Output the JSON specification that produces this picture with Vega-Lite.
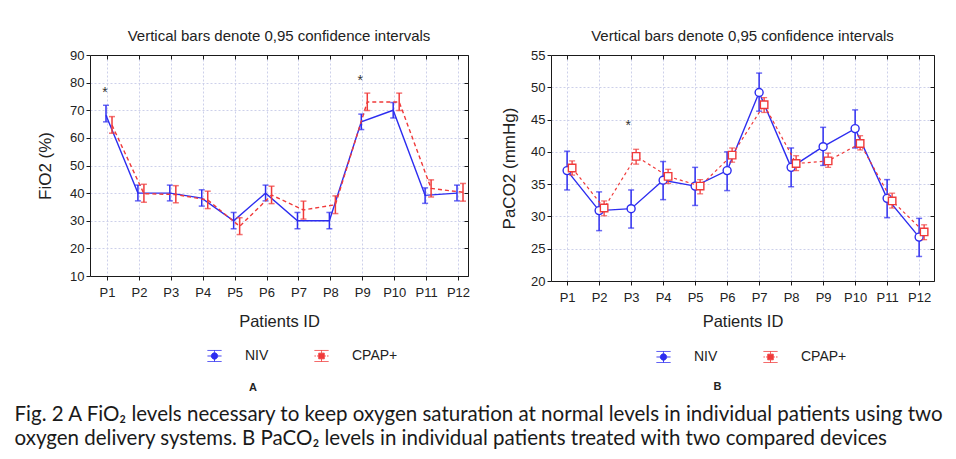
{
  "$schema": "https://vega.github.io/schema/vega-lite/v6.json",
  "background": "white",
  "padding": {"left": 14, "top": 29, "right": 5, "bottom": 5},
  "datasets": {
    "fio2": [
      {"id": "P1", "group": "NIV", "mean": 68.2, "lo": 65.8, "hi": 71.8},
      {"id": "P2", "group": "NIV", "mean": 40, "lo": 37.2, "hi": 42.9},
      {"id": "P3", "group": "NIV", "mean": 40, "lo": 37.2, "hi": 42.9},
      {"id": "P4", "group": "NIV", "mean": 38.2, "lo": 35.3, "hi": 41.2},
      {"id": "P5", "group": "NIV", "mean": 30, "lo": 27.1, "hi": 33},
      {"id": "P6", "group": "NIV", "mean": 40, "lo": 37.2, "hi": 42.9},
      {"id": "P7", "group": "NIV", "mean": 30, "lo": 27.1, "hi": 33},
      {"id": "P8", "group": "NIV", "mean": 30, "lo": 27.1, "hi": 33},
      {"id": "P9", "group": "NIV", "mean": 65.8, "lo": 63, "hi": 68.6},
      {"id": "P10", "group": "NIV", "mean": 70, "lo": 67.2, "hi": 72.8},
      {"id": "P11", "group": "NIV", "mean": 39.2, "lo": 36.3, "hi": 41.9},
      {"id": "P12", "group": "NIV", "mean": 40, "lo": 37.2, "hi": 42.9},
      {"id": "P1", "group": "CPAP+", "mean": 64.6, "lo": 61.7, "hi": 67.7},
      {"id": "P2", "group": "CPAP+", "mean": 39.8, "lo": 36.7, "hi": 43.2},
      {"id": "P3", "group": "CPAP+", "mean": 39.5, "lo": 36.5, "hi": 42.7},
      {"id": "P4", "group": "CPAP+", "mean": 37.5, "lo": 34.4, "hi": 40.7},
      {"id": "P5", "group": "CPAP+", "mean": 28, "lo": 25, "hi": 31.1},
      {"id": "P6", "group": "CPAP+", "mean": 39.3, "lo": 36.2, "hi": 42.5},
      {"id": "P7", "group": "CPAP+", "mean": 33.9, "lo": 30.6, "hi": 37.1},
      {"id": "P8", "group": "CPAP+", "mean": 35.8, "lo": 32.6, "hi": 39},
      {"id": "P9", "group": "CPAP+", "mean": 73, "lo": 69.9, "hi": 76.2},
      {"id": "P10", "group": "CPAP+", "mean": 73, "lo": 69.9, "hi": 76.2},
      {"id": "P11", "group": "CPAP+", "mean": 41.7, "lo": 38.6, "hi": 44.8},
      {"id": "P12", "group": "CPAP+", "mean": 40.3, "lo": 37.1, "hi": 43.5}
    ],
    "paco2": [
      {"id": "P1", "group": "NIV", "mean": 37.1, "lo": 34.1, "hi": 40.1},
      {"id": "P2", "group": "NIV", "mean": 30.9, "lo": 27.8, "hi": 33.8},
      {"id": "P3", "group": "NIV", "mean": 31.2, "lo": 28.2, "hi": 34.1},
      {"id": "P4", "group": "NIV", "mean": 35.6, "lo": 32.6, "hi": 38.5},
      {"id": "P5", "group": "NIV", "mean": 34.7, "lo": 31.7, "hi": 37.6},
      {"id": "P6", "group": "NIV", "mean": 37.1, "lo": 34, "hi": 40},
      {"id": "P7", "group": "NIV", "mean": 49.2, "lo": 46.3, "hi": 52.2},
      {"id": "P8", "group": "NIV", "mean": 37.6, "lo": 34.6, "hi": 40.6},
      {"id": "P9", "group": "NIV", "mean": 40.8, "lo": 37.9, "hi": 43.8},
      {"id": "P10", "group": "NIV", "mean": 43.6, "lo": 40.6, "hi": 46.5},
      {"id": "P11", "group": "NIV", "mean": 32.8, "lo": 29.8, "hi": 35.7},
      {"id": "P12", "group": "NIV", "mean": 26.8, "lo": 23.8, "hi": 29.7},
      {"id": "P1", "group": "CPAP+", "mean": 37.5, "lo": 36.4, "hi": 38.6},
      {"id": "P2", "group": "CPAP+", "mean": 31.3, "lo": 30.1, "hi": 32.4},
      {"id": "P3", "group": "CPAP+", "mean": 39.3, "lo": 38.1, "hi": 40.4},
      {"id": "P4", "group": "CPAP+", "mean": 36.2, "lo": 35.1, "hi": 37.3},
      {"id": "P5", "group": "CPAP+", "mean": 34.7, "lo": 33.5, "hi": 35.7},
      {"id": "P6", "group": "CPAP+", "mean": 39.5, "lo": 38.4, "hi": 40.6},
      {"id": "P7", "group": "CPAP+", "mean": 47.3, "lo": 46.1, "hi": 48.4},
      {"id": "P8", "group": "CPAP+", "mean": 38.2, "lo": 37.1, "hi": 39.4},
      {"id": "P9", "group": "CPAP+", "mean": 38.6, "lo": 37.6, "hi": 39.8},
      {"id": "P10", "group": "CPAP+", "mean": 41.3, "lo": 40.3, "hi": 42.5},
      {"id": "P11", "group": "CPAP+", "mean": 32.4, "lo": 31.3, "hi": 33.6},
      {"id": "P12", "group": "CPAP+", "mean": 27.6, "lo": 26.4, "hi": 28.7}
    ],
    "starsA": [
      {"id": "P1", "value": 77.4, "label": "*"},
      {"id": "P9", "value": 81.8, "label": "*"}
    ],
    "starsB": [
      {"id": "P3", "value": 44.4, "label": "*"}
    ]
  },
  "config": {
    "font": "Liberation Sans",
    "view": {"stroke": null},
    "axis": {
      "labelFont": "Liberation Sans", "labelFontSize": 13, "labelColor": "#222",
      "titleFont": "Liberation Sans", "titleFontWeight": "normal", "titleColor": "#222",
      "domainColor": "#1a1a1a", "tickColor": "#1a1a1a", "tickSize": 4,
      "gridColor": "#cdd0ea", "gridDash": [2, 2], "gridWidth": 1
    },
    "title": {"font": "Liberation Sans", "color": "#222"},
    "legend": {"labelFont": "Liberation Sans", "labelFontSize": 14, "labelColor": "#222"}
  },
  "title": {
    "text": [
      "Fig. 2  A FiO₂ levels necessary to keep oxygen saturation at normal levels in individual patients using two",
      "oxygen delivery systems. B PaCO₂ levels in individual patients treated with two compared devices"
    ],
    "orient": "bottom", "anchor": "start", "frame": "bounds",
    "font": "Lato", "fontSize": 20.5, "fontWeight": "normal", "color": "#1a1a1a",
    "lineHeight": 24, "offset": 12, "dx": -22
  },
  "spacing": 30,
  "resolve": {
    "scale": {"color": "independent", "x": "independent", "y": "independent"},
    "legend": {"color": "independent"}
  },
  "hconcat": [
    {
      "title": {"text": "A", "orient": "bottom", "anchor": "middle", "fontSize": 11, "fontWeight": "bold", "offset": 18},
      "vconcat": [
        {
          "width": 378, "height": 221,
          "title": {"text": "Vertical bars denote 0,95 confidence intervals", "fontSize": 15, "fontWeight": "normal", "offset": 5, "anchor": "middle", "frame": "group"},
          "data": {"name": "fio2"},
          "resolve": {"axis": {"x": "independent", "y": "independent"}},
          "encoding": {
            "x": {
              "field": "id", "type": "nominal",
              "sort": ["P1", "P2", "P3", "P4", "P5", "P6", "P7", "P8", "P9", "P10", "P11", "P12"],
              "scale": {"type": "point", "padding": 0.423, "align": 0.63},
              "axis": {"title": "Patients ID", "titleFontSize": 16.5, "titlePadding": 14, "labelAngle": 0, "labelPadding": 6, "grid": true}
            }
          },
          "layer": [
            {
              "transform": [{"filter": "datum.group === 'NIV'"}],
              "layer": [
                {
                  "mark": {"type": "line", "strokeWidth": 1.4, "xOffset": -1},
                  "encoding": {
                    "y": {"field": "mean", "type": "quantitative", "title": "FiO2 (%)", "scale": {"domain": [10, 90], "nice": false},
                          "axis": {"titleFontSize": 17, "titlePadding": 15, "grid": true, "values": [10, 20, 30, 40, 50, 60, 70, 80, 90]}},
                    "color": {
                      "field": "group", "type": "nominal",
                      "scale": {"domain": ["NIV", "CPAP+"], "range": ["#2d2df0", "#f03a3a"]},
                      "legend": {
                        "orient": "none", "legendX": 117, "legendY": 293, "direction": "horizontal", "columns": 2, "title": null,
                        "symbolSize": 196, "symbolStrokeWidth": 1, "symbolFillColor": "white", "symbolOpacity": 1, "labelOffset": 23, "columnPadding": 43,
                        "encode": {"symbols": {"update": {
                          "shape": [
                            {"test": "datum.value === 'NIV'", "value": "M-1,-0.79H1M-1,0.79H1M0,-0.79V-0.45M0,0.45V0.79M-1,0H-0.45M0.45,0H1M-0.45,0A0.45,0.45 0 1,0 0.45,0A0.45,0.45 0 1,0 -0.45,0"},
                            {"value": "M-1,-0.79H1M-1,0.79H1M0,-0.79V-0.4M0,0.4V0.79M-1,0H-0.8M-0.62,0H-0.4M0.4,0H0.62M0.8,0H1M-0.4,-0.4H0.4V0.4H-0.4Z"}
                          ],
                          "fill": {"value": "white"},
                          "fillOpacity": {"value": 1},
                          "strokeDash": {"value": [1, 0]}
                        }}}
                      }
                    }
                  }
                },
                {"mark": {"type": "rule", "strokeWidth": 1.5, "xOffset": -1},
                 "encoding": {"y": {"field": "lo", "type": "quantitative", "title": "FiO2 (%)", "axis": {"titleFontSize": 17, "titlePadding": 15, "grid": true, "values": [10, 20, 30, 40, 50, 60, 70, 80, 90]}}, "y2": {"field": "hi"}, "color": {"field": "group", "type": "nominal"}}},
                {"mark": {"type": "tick", "size": 6, "thickness": 1.5, "xOffset": -1},
                 "encoding": {"y": {"field": "lo", "type": "quantitative", "title": "FiO2 (%)", "axis": {"titleFontSize": 17, "titlePadding": 15, "grid": true, "values": [10, 20, 30, 40, 50, 60, 70, 80, 90]}}, "color": {"field": "group", "type": "nominal"}}},
                {"mark": {"type": "tick", "size": 6, "thickness": 1.5, "xOffset": -1},
                 "encoding": {"y": {"field": "hi", "type": "quantitative", "title": "FiO2 (%)", "axis": {"titleFontSize": 17, "titlePadding": 15, "grid": true, "values": [10, 20, 30, 40, 50, 60, 70, 80, 90]}}, "color": {"field": "group", "type": "nominal"}}}
              ]
            },
            {
              "transform": [{"filter": "datum.group === 'CPAP+'"}],
              "encoding": {"x": {"field": "id", "type": "nominal", "sort": ["P1", "P2", "P3", "P4", "P5", "P6", "P7", "P8", "P9", "P10", "P11", "P12"], "axis": null}},
              "layer": [
                {"mark": {"type": "line", "strokeWidth": 1.4, "xOffset": 5, "strokeDash": [4, 3]},
                 "encoding": {"y": {"field": "mean", "type": "quantitative", "axis": null}, "color": {"field": "group", "type": "nominal"}}},
                {"mark": {"type": "rule", "strokeWidth": 1.5, "xOffset": 5},
                 "encoding": {"y": {"field": "lo", "type": "quantitative", "axis": null}, "y2": {"field": "hi"}, "color": {"field": "group", "type": "nominal"}}},
                {"mark": {"type": "tick", "size": 6, "thickness": 1.5, "xOffset": 5},
                 "encoding": {"y": {"field": "lo", "type": "quantitative", "axis": null}, "color": {"field": "group", "type": "nominal"}}},
                {"mark": {"type": "tick", "size": 6, "thickness": 1.5, "xOffset": 5},
                 "encoding": {"y": {"field": "hi", "type": "quantitative", "axis": null}, "color": {"field": "group", "type": "nominal"}}}
              ]
            },
            {
              "data": {"name": "starsA"},
              "mark": {"type": "text", "fontSize": 14, "color": "#333", "dx": -2, "dy": 3},
              "encoding": {
                "x": {"field": "id", "type": "nominal", "sort": ["P1", "P2", "P3", "P4", "P5", "P6", "P7", "P8", "P9", "P10", "P11", "P12"], "axis": null},
                "y": {"field": "value", "type": "quantitative", "axis": null},
                "text": {"field": "label"}
              }
            },
            {
              "mark": {"type": "point", "opacity": 0},
              "encoding": {
                "x": {"field": "id", "type": "nominal", "sort": ["P1", "P2", "P3", "P4", "P5", "P6", "P7", "P8", "P9", "P10", "P11", "P12"],
                      "axis": {"orient": "top", "labels": false, "title": null, "grid": false, "tickSize": -4}},
                "y": {"field": "mean", "type": "quantitative",
                      "axis": {"orient": "right", "labels": false, "title": null, "grid": false, "tickSize": -4, "values": [10, 20, 30, 40, 50, 60, 70, 80, 90]}}
              }
            }
          ]
        }
      ]
    },
    {
      "title": {"text": "B", "orient": "bottom", "anchor": "middle", "fontSize": 11, "fontWeight": "bold", "offset": 16},
      "vconcat": [
        {
          "width": 383, "height": 226,
          "title": {"text": "Vertical bars denote 0,95 confidence intervals", "fontSize": 15, "fontWeight": "normal", "offset": 5, "anchor": "middle", "frame": "group"},
          "data": {"name": "paco2"},
          "resolve": {"axis": {"x": "independent", "y": "independent"}},
          "encoding": {
            "x": {
              "field": "id", "type": "nominal",
              "sort": ["P1", "P2", "P3", "P4", "P5", "P6", "P7", "P8", "P9", "P10", "P11", "P12"],
              "scale": {"type": "point", "padding": 0.484, "align": 0.52},
              "axis": {"title": "Patients ID", "titleFontSize": 16.5, "titlePadding": 9, "labelAngle": 0, "labelPadding": 6, "grid": true}
            }
          },
          "layer": [
            {
              "transform": [{"filter": "datum.group === 'NIV'"}],
              "layer": [
                {
                  "mark": {"type": "line", "strokeWidth": 1.4},
                  "encoding": {
                    "y": {"field": "mean", "type": "quantitative", "title": "PaCO2 (mmHg)", "scale": {"domain": [20, 55], "nice": false},
                          "axis": {"titleFontSize": 17, "titlePadding": 12, "grid": true, "values": [20, 25, 30, 35, 40, 45, 50, 55]}},
                    "color": {
                      "field": "group", "type": "nominal",
                      "scale": {"domain": ["NIV", "CPAP+"], "range": ["#2d2df0", "#f03a3a"]},
                      "legend": {
                        "orient": "none", "legendX": 105, "legendY": 294, "direction": "horizontal", "columns": 2, "title": null,
                        "symbolSize": 196, "symbolStrokeWidth": 1, "symbolFillColor": "white", "symbolOpacity": 1, "labelOffset": 23, "columnPadding": 43,
                        "encode": {"symbols": {"update": {
                          "shape": [
                            {"test": "datum.value === 'NIV'", "value": "M-1,-0.79H1M-1,0.79H1M0,-0.79V-0.45M0,0.45V0.79M-1,0H-0.45M0.45,0H1M-0.45,0A0.45,0.45 0 1,0 0.45,0A0.45,0.45 0 1,0 -0.45,0"},
                            {"value": "M-1,-0.79H1M-1,0.79H1M0,-0.79V-0.4M0,0.4V0.79M-1,0H-0.8M-0.62,0H-0.4M0.4,0H0.62M0.8,0H1M-0.4,-0.4H0.4V0.4H-0.4Z"}
                          ],
                          "fill": {"value": "white"},
                          "fillOpacity": {"value": 1},
                          "strokeDash": {"value": [1, 0]}
                        }}}
                      }
                    }
                  }
                },
                {"mark": {"type": "rule", "strokeWidth": 1.5},
                 "encoding": {"y": {"field": "lo", "type": "quantitative", "title": "PaCO2 (mmHg)", "axis": {"titleFontSize": 17, "titlePadding": 12, "grid": true, "values": [20, 25, 30, 35, 40, 45, 50, 55]}}, "y2": {"field": "hi"}, "color": {"field": "group", "type": "nominal"}}},
                {"mark": {"type": "tick", "size": 6, "thickness": 1.5},
                 "encoding": {"y": {"field": "lo", "type": "quantitative", "title": "PaCO2 (mmHg)", "axis": {"titleFontSize": 17, "titlePadding": 12, "grid": true, "values": [20, 25, 30, 35, 40, 45, 50, 55]}}, "color": {"field": "group", "type": "nominal"}}},
                {"mark": {"type": "tick", "size": 6, "thickness": 1.5},
                 "encoding": {"y": {"field": "hi", "type": "quantitative", "title": "PaCO2 (mmHg)", "axis": {"titleFontSize": 17, "titlePadding": 12, "grid": true, "values": [20, 25, 30, 35, 40, 45, 50, 55]}}, "color": {"field": "group", "type": "nominal"}}},
                {"mark": {"type": "point", "shape": "circle", "filled": false, "fill": "white", "fillOpacity": 1, "opacity": 1, "strokeWidth": 1.4, "size": 64},
                 "encoding": {"y": {"field": "mean", "type": "quantitative", "title": "PaCO2 (mmHg)", "axis": {"titleFontSize": 17, "titlePadding": 12, "grid": true, "values": [20, 25, 30, 35, 40, 45, 50, 55]}}, "color": {"field": "group", "type": "nominal"}}}
              ]
            },
            {
              "transform": [{"filter": "datum.group === 'CPAP+'"}],
              "encoding": {"x": {"field": "id", "type": "nominal", "sort": ["P1", "P2", "P3", "P4", "P5", "P6", "P7", "P8", "P9", "P10", "P11", "P12"], "axis": null}},
              "layer": [
                {"mark": {"type": "line", "strokeWidth": 1.2, "xOffset": 5, "strokeDash": [3, 3]},
                 "encoding": {"y": {"field": "mean", "type": "quantitative", "axis": null}, "color": {"field": "group", "type": "nominal"}}},
                {"mark": {"type": "rule", "strokeWidth": 1.3, "xOffset": 5},
                 "encoding": {"y": {"field": "lo", "type": "quantitative", "axis": null}, "y2": {"field": "hi"}, "color": {"field": "group", "type": "nominal"}}},
                {"mark": {"type": "tick", "size": 6, "thickness": 1.3, "xOffset": 5},
                 "encoding": {"y": {"field": "lo", "type": "quantitative", "axis": null}, "color": {"field": "group", "type": "nominal"}}},
                {"mark": {"type": "tick", "size": 6, "thickness": 1.3, "xOffset": 5},
                 "encoding": {"y": {"field": "hi", "type": "quantitative", "axis": null}, "color": {"field": "group", "type": "nominal"}}},
                {"mark": {"type": "point", "shape": "square", "filled": false, "fill": "white", "fillOpacity": 1, "opacity": 1, "strokeWidth": 1.4, "size": 56, "xOffset": 5},
                 "encoding": {"y": {"field": "mean", "type": "quantitative", "axis": null}, "color": {"field": "group", "type": "nominal"}}}
              ]
            },
            {
              "data": {"name": "starsB"},
              "mark": {"type": "text", "fontSize": 14, "color": "#333", "dx": -3, "dy": 3},
              "encoding": {
                "x": {"field": "id", "type": "nominal", "sort": ["P1", "P2", "P3", "P4", "P5", "P6", "P7", "P8", "P9", "P10", "P11", "P12"], "axis": null},
                "y": {"field": "value", "type": "quantitative", "axis": null},
                "text": {"field": "label"}
              }
            },
            {
              "mark": {"type": "point", "opacity": 0},
              "encoding": {
                "x": {"field": "id", "type": "nominal", "sort": ["P1", "P2", "P3", "P4", "P5", "P6", "P7", "P8", "P9", "P10", "P11", "P12"],
                      "axis": {"orient": "top", "labels": false, "title": null, "grid": false, "tickSize": -4}},
                "y": {"field": "mean", "type": "quantitative",
                      "axis": {"orient": "right", "labels": false, "title": null, "grid": false, "tickSize": -4, "values": [20, 25, 30, 35, 40, 45, 50, 55]}}
              }
            }
          ]
        }
      ]
    }
  ]
}
